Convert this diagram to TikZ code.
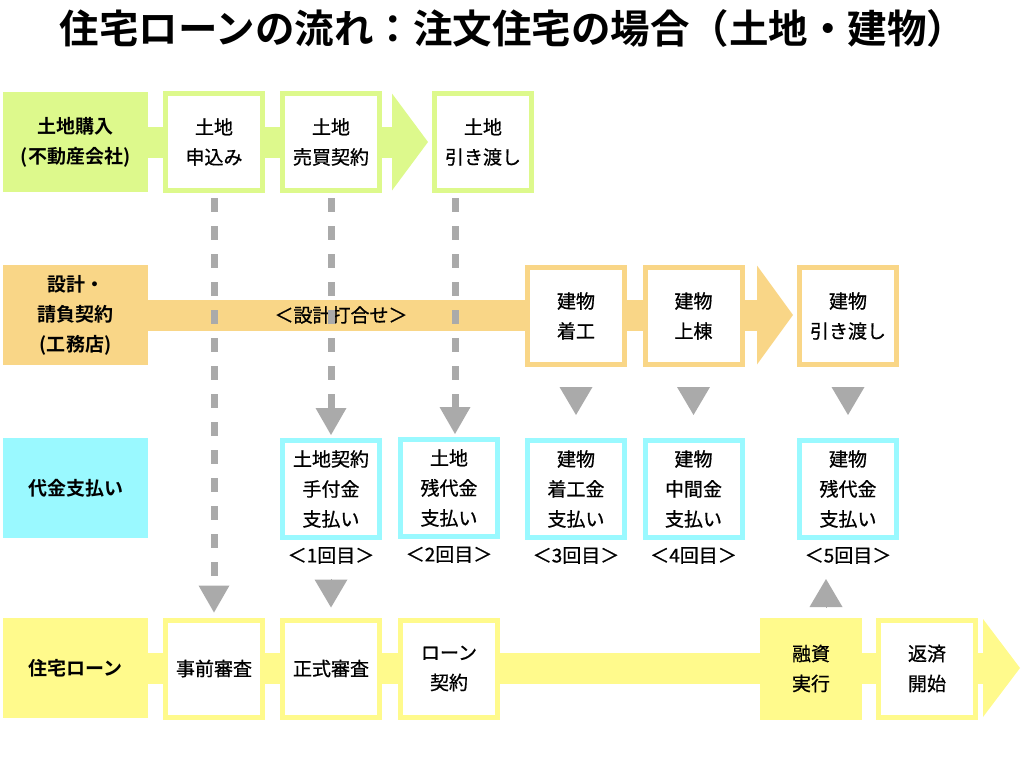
\documentclass[tikz,border=0pt]{standalone}
\usepackage{fontspec}
\setmainfont{Noto Sans CJK JP}[BoldFont={Noto Sans CJK JP Bold}]
\newfontfamily\moyen{Noto Sans CJK JP}[FakeBold=0.8]
\usepackage{tikz}
\usetikzlibrary{arrows.meta}
\usetikzlibrary{positioning}
\usetikzlibrary{backgrounds}
\definecolor{vertclair}{RGB}{221,249,140}
\definecolor{orangeclair}{RGB}{249,214,135}
\definecolor{cyanclair}{RGB}{154,249,255}
\definecolor{jauneclair}{RGB}{255,250,140}
\definecolor{grisfleche}{RGB}{170,170,170}

\begin{document}
\begin{tikzpicture}[x=1pt,y=-1pt]
	% STYLES
	\tikzstyle{etiquette} = [minimum width=145pt, minimum height=100pt, inner sep=0pt, align=center, font=\fontsize{19}{30}\selectfont\bfseries]
	\tikzstyle{boite} = [line width=5pt, minimum width=97pt, minimum height=97pt, inner sep=0pt, fill=white, align=center, font=\fontsize{19}{30}\selectfont\moyen]
	\tikzstyle{bande} = [line width=31pt]
	\tikzstyle{pointilles} = [line width=7pt, draw=grisfleche, dash pattern=on 14pt off 14pt, -{Triangle[width=31pt,length=27pt,line width=0pt]}]
	\tikzstyle{fleche} = [line width=0.1pt, draw=grisfleche, -{Triangle[width=33pt,length=28pt,line width=0pt]}]
	\tikzstyle{rang} = [font=\fontsize{19}{22}\selectfont\moyen, inner sep=0pt]

	\useasboundingbox (0,0) rectangle (1024,768);

	% TITRE
	\node[font=\fontsize{39.5}{42}\selectfont\bfseries] (titre) at (513,28) {住宅ローンの流れ：注文住宅の場合（土地・建物）};

	% TERRAIN
	\node[etiquette, fill=vertclair] (L1) at (75.5,142) {土地購入\\(不動産会社)};
	\node[boite, draw=vertclair] (A1) at (214,142) {土地\\申込み};
	\node[boite, draw=vertclair] (A2) at (331,142) {土地\\売買契約};
	\node[boite, draw=vertclair] (A3) at (483,142) {土地\\引き渡し};
	\coordinate (pointe1) at (428,142);

	% CONSTRUCTION
	\node[etiquette, fill=orangeclair] (L2) at (75.5,315) {設計・\\請負契約\\(工務店)};
	\node[font=\fontsize{19}{22}\selectfont\moyen] (plan) at (341,315) {＜設計打合せ＞};
	\node[boite, draw=orangeclair] (B1) at (576,316) {建物\\着工};
	\node[boite, draw=orangeclair] (B2) at (693.5,316) {建物\\上棟};
	\node[boite, draw=orangeclair] (B3) at (848,316) {建物\\引き渡し};
	\coordinate (pointe2) at (793,315);

	% PAIEMENTS
	\node[etiquette, fill=cyanclair] (L3) at (75.5,488) {代金支払い};
	\node[boite, draw=cyanclair] (P1) at (331,489) {土地契約\\手付金\\支払い};
	\node[boite, draw=cyanclair] (P2) at (449,488) {土地\\残代金\\支払い};
	\node[boite, draw=cyanclair] (P3) at (576,489) {建物\\着工金\\支払い};
	\node[boite, draw=cyanclair] (P4) at (693.5,489) {建物\\中間金\\支払い};
	\node[boite, draw=cyanclair] (P5) at (848,489) {建物\\残代金\\支払い};
	\node[rang, below=7pt of P1] (R1) {＜1回目＞};
	\node[rang, below=7pt of P2] (R2) {＜2回目＞};
	\node[rang, below=7pt of P3] (R3) {＜3回目＞};
	\node[rang, below=7pt of P4] (R4) {＜4回目＞};
	\node[rang, below=7pt of P5] (R5) {＜5回目＞};

	% PRET
	\node[etiquette, fill=jauneclair] (L4) at (75.5,668) {住宅ローン};
	\node[boite, draw=jauneclair] (C1) at (214,668.5) {事前審査};
	\node[boite, draw=jauneclair] (C2) at (331,668.5) {正式審査};
	\node[boite, draw=jauneclair] (C3) at (449,668.5) {ローン\\契約};
	\node[boite, draw=jauneclair, fill=jauneclair] (C4) at (811,668.5) {融資\\実行};
	\node[boite, draw=jauneclair] (C5) at (927,668.5) {返済\\開始};
	\coordinate (pointe4) at (1020,668);

	% BANDES
	\begin{scope}[on background layer]
		\draw[bande, vertclair, -{Triangle[width=97pt,length=36pt,line width=0pt]}] (L1.east) -- (pointe1);
		\draw[bande, orangeclair, -{Triangle[width=99pt,length=36pt,line width=0pt]}] (L2.east) -- (pointe2);
		\draw[bande, jauneclair, -{Triangle[width=98pt,length=37pt,line width=0pt]}] (L4.east) -- (pointe4);
	\end{scope}

	% FLECHES
	\coordinate (axe2) at (455,0);
	\coordinate (axe5) at (826,0);
	\draw[pointilles, shorten <=5pt, shorten >=5pt] (A1) -- (C1);
	\draw[pointilles, shorten <=5pt, shorten >=3pt] (A2) -- (P1);
	\draw[pointilles, shorten <=5pt, shorten >=3pt] (A3.south -| axe2) -- (P2.north -| axe2);
	\draw[fleche, shorten <=20pt, shorten >=23pt] (B1) -- (P3);
	\draw[fleche, shorten <=20pt, shorten >=23pt] (B2) -- (P4);
	\draw[fleche, shorten <=20pt, shorten >=23pt] (B3) -- (P5);
	\draw[fleche, shorten <=39pt, shorten >=10pt] (P1) -- (C2);
	\draw[fleche, shorten <=11pt, shorten >=39pt] (C4.north -| axe5) -- (P5.south -| axe5);
\end{tikzpicture}
\end{document}
